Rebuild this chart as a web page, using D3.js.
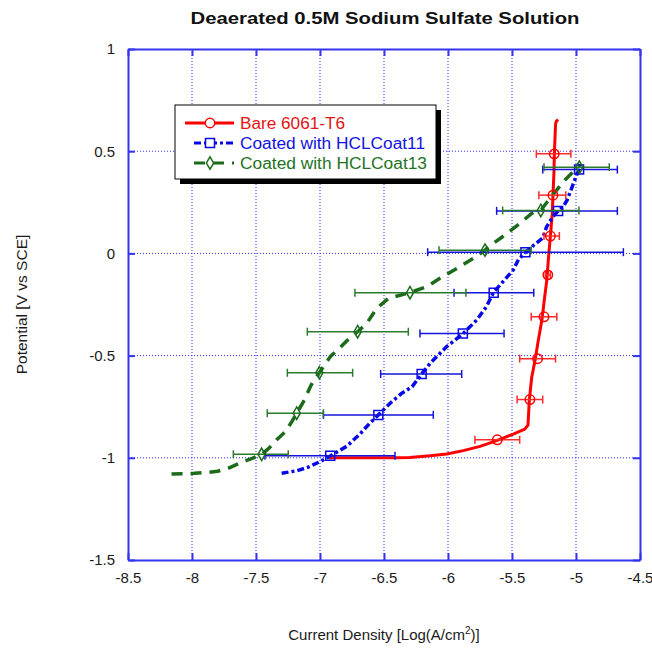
<!DOCTYPE html>
<html>
<head>
<meta charset="utf-8">
<script src="https://cdn.jsdelivr.net/npm/d3@7"></script>
<style>
  html, body { margin: 0; padding: 0; background: #ffffff; }
  svg { display: block; }
  text { font-family: "Liberation Sans", Arial, sans-serif; }
</style>
</head>
<body>
<svg id="chart" width="652" height="649"></svg>
<script>
// Axis ticks
const xTicks = [-8.5, -8, -7.5, -7, -6.5, -6, -5.5, -5, -4.5];
const xTickLabels = ["-8.5", "-8", "-7.5", "-7", "-6.5", "-6", "-5.5", "-5", "-4.5"];
const yTicks = [1, 0.5, 0, -0.5, -1, -1.5];
const yTickLabels = ["1", "0.5", "0", "-0.5", "-1", "-1.5"];

// Series names
const seriesNames = ["Bare 6061-T6", "Coated with HCLCoat11", "Coated with HCLCoat13"];

// Bare 6061-T6: polarization curve (log i, E)
const bareLogI = [-6.93, -6.41, -6.30, -6.14, -6.01, -5.88, -5.75, -5.62, -5.49, -5.40, -5.375, -5.365,
  -5.346, -5.32, -5.295, -5.265, -5.248, -5.228, -5.216, -5.20, -5.185, -5.18, -5.172, -5.169,
  -5.165, -5.16, -5.155, -5.14];
const bareE = [-1.0, -1.0, -0.998, -0.99, -0.981, -0.965, -0.944, -0.916, -0.884, -0.86, -0.84, -0.72,
  -0.606, -0.524, -0.427, -0.32, -0.23, -0.13, -0.03, 0.085, 0.2, 0.285, 0.40, 0.487,
  0.55, 0.63, 0.645, 0.655];
// Bare 6061-T6: averaged points with error ranges
const bareMeanLogI = [-5.17, -5.18, -5.20, -5.22, -5.25, -5.30, -5.36, -5.615];
const bareMeanE = [0.487, 0.285, 0.085, -0.105, -0.31, -0.515, -0.715, -0.912];
const bareErrLo = [-5.31, -5.29, -5.25, -5.24, -5.35, -5.44, -5.46, -5.79];
const bareErrHi = [-5.04, -5.08, -5.13, -5.20, -5.15, -5.16, -5.26, -5.44];

// Coated with HCLCoat11
const coat11LogI = [-7.30, -7.18, -7.10, -7.0, -6.92, -6.79, -6.69, -6.61, -6.544, -6.44, -6.36, -6.28,
  -6.206, -6.14, -6.01, -5.88, -5.776, -5.70, -5.646, -5.57, -5.49, -5.45, -5.395, -5.33,
  -5.26, -5.23, -5.18, -5.14, -5.10, -5.07, -5.03, -5.005, -4.978, -4.965];
const coat11E = [-1.076, -1.063, -1.048, -1.019, -0.991, -0.943, -0.885, -0.83, -0.79, -0.726, -0.684, -0.652,
  -0.59, -0.538, -0.456, -0.391, -0.326, -0.261, -0.192, -0.138, -0.081, -0.03, 0.005, 0.04,
  0.075, 0.13, 0.18, 0.207, 0.229, 0.26, 0.326, 0.367, 0.408, 0.435];
const coat11MeanLogI = [-6.92, -6.544, -6.206, -5.884, -5.643, -5.395, -5.14, -4.976];
const coat11MeanE = [-0.99, -0.79, -0.59, -0.392, -0.192, 0.006, 0.208, 0.41];
const coat11ErrLo = [-7.43, -6.973, -6.526, -6.219, -5.953, -6.159, -5.62, -5.26];
const coat11ErrHi = [-6.414, -6.115, -5.893, -5.562, -5.33, -4.63, -4.677, -4.677];

// Coated with HCLCoat13
const coat13LogI = [-8.16, -8.05, -7.98, -7.87, -7.80, -7.72, -7.63, -7.53, -7.456, -7.40, -7.34, -7.27,
  -7.22, -7.182, -7.13, -7.07, -7.005, -6.92, -6.84, -6.77, -6.706, -6.635, -6.557, -6.466,
  -6.30, -6.166, -6.063, -5.93, -5.80, -5.711, -5.672, -5.555, -5.438, -5.346, -5.27, -5.203,
  -5.151, -5.086, -5.034, -4.982, -4.969];
const coat13E = [-1.079, -1.078, -1.076, -1.071, -1.066, -1.052, -1.027, -1.003, -0.983, -0.954, -0.913, -0.872,
  -0.823, -0.782, -0.726, -0.645, -0.584, -0.505, -0.459, -0.415, -0.383, -0.342, -0.269, -0.22,
  -0.192, -0.163, -0.122, -0.073, -0.024, 0.016, 0.037, 0.09, 0.147, 0.196, 0.215, 0.27,
  0.31, 0.359, 0.392, 0.424, 0.437];
const coat13MeanLogI = [-7.456, -7.182, -7.005, -6.706, -6.297, -5.711, -5.275, -4.974];
const coat13MeanE = [-0.983, -0.782, -0.584, -0.383, -0.192, 0.016, 0.21, 0.422];
const coat13ErrLo = [-7.677, -7.412, -7.255, -7.099, -6.727, -6.07, -5.573, -5.25];
const coat13ErrHi = [-7.248, -6.974, -6.745, -6.31, -5.86, -5.35, -4.977, -4.74];

const svg = d3.select("#chart");
const W = 652, H = 649;
const plot = { left: 128, right: 640, top: 49, bottom: 560 };

svg.append("rect").attr("width", W).attr("height", H).attr("fill", "#ffffff");

const x = d3.scaleLinear().domain([-8.5, -4.5]).range([plot.left, plot.right]);
const y = d3.scaleLinear().domain([-1.5, 1]).range([plot.bottom, plot.top]);

const axisColor = "#3434ee";
const gridColor = "#2a2aff";

// Dotted grid
const grid = svg.append("g");
grid.selectAll("line.vx").data(xTicks.slice(1, -1)).join("line")
  .attr("x1", d => x(d)).attr("x2", d => x(d))
  .attr("y1", plot.top).attr("y2", plot.bottom)
  .attr("stroke", gridColor).attr("stroke-width", 1).attr("stroke-dasharray", "1,2");
grid.selectAll("line.hy").data(yTicks.slice(1, -1)).join("line")
  .attr("y1", d => y(d)).attr("y2", d => y(d))
  .attr("x1", plot.left).attr("x2", plot.right)
  .attr("stroke", gridColor).attr("stroke-width", 1).attr("stroke-dasharray", "1,2");

// Series definitions
const series = [
  { name: seriesNames[0], color: "#ff0000", text: "#e31414", bar: "#ff2a2a", dash: null, width: 3,
    cx: bareLogI, cy: bareE, mx: bareMeanLogI, my: bareMeanE, lo: bareErrLo, hi: bareErrHi,
    symbol: d3.symbolCircle, size: 70, textLen: 105 },
  { name: seriesNames[1], color: "#0808e6", text: "#1212e0", bar: "#1414dc", dash: "7,3,3,3", width: 3.5,
    cx: coat11LogI, cy: coat11E, mx: coat11MeanLogI, my: coat11MeanE, lo: coat11ErrLo, hi: coat11ErrHi,
    symbol: d3.symbolSquare, size: 81, textLen: 185 },
  { name: seriesNames[2], color: "#1b6b1b", text: "#237323", bar: "#2c7a2c", dash: "11,8", width: 3.5,
    cx: coat13LogI, cy: coat13E, mx: coat13MeanLogI, my: coat13MeanE, lo: coat13ErrLo, hi: coat13ErrHi,
    symbol: d3.symbolDiamond, size: 45, textLen: 187 }
];

const line = d3.line().x(d => x(d[0])).y(d => y(d[1]));

// Curves
series.forEach(s => {
  svg.append("path")
    .datum(s.cx.map((v, i) => [v, s.cy[i]]))
    .attr("d", line)
    .attr("fill", "none")
    .attr("stroke", s.color)
    .attr("stroke-width", s.width)
    .attr("stroke-linejoin", "round")
    .attr("stroke-dasharray", s.dash);
});

// Error bars and markers
const capH = 4;
series.forEach(s => {
  const g = svg.append("g");
  s.mx.forEach((v, i) => {
    const yy = y(s.my[i]);
    const x0 = x(s.lo[i]), x1 = x(s.hi[i]);
    g.append("line").attr("x1", x0).attr("x2", x1).attr("y1", yy).attr("y2", yy)
      .attr("stroke", s.bar).attr("stroke-width", 1.5);
    [x0, x1].forEach(xc => {
      g.append("line").attr("x1", xc).attr("x2", xc).attr("y1", yy - capH).attr("y2", yy + capH)
        .attr("stroke", s.bar).attr("stroke-width", 1.5);
    });
    g.append("path")
      .attr("d", d3.symbol().type(s.symbol).size(s.size)())
      .attr("transform", `translate(${x(v)},${yy})`)
      .attr("fill", "none")
      .attr("stroke", s.color)
      .attr("stroke-width", 1.5);
  });
});

// Plot frame with inward ticks on all sides
const fmtX = d => xTickLabels[xTicks.indexOf(d)];
const fmtY = d => yTickLabels[yTicks.indexOf(d)];

const gBottom = svg.append("g").attr("transform", `translate(0,${plot.bottom})`)
  .call(d3.axisBottom(x).tickValues(xTicks).tickFormat(fmtX).tickSizeInner(-7).tickSizeOuter(0).tickPadding(12));
const gLeft = svg.append("g").attr("transform", `translate(${plot.left},0)`)
  .call(d3.axisLeft(y).tickValues(yTicks).tickFormat(fmtY).tickSizeInner(-7).tickSizeOuter(0).tickPadding(13));
const gTop = svg.append("g").attr("transform", `translate(0,${plot.top})`)
  .call(d3.axisTop(x).tickValues(xTicks).tickFormat("").tickSizeInner(-7).tickSizeOuter(0));
const gRight = svg.append("g").attr("transform", `translate(${plot.right},0)`)
  .call(d3.axisRight(y).tickValues(yTicks).tickFormat("").tickSizeInner(-7).tickSizeOuter(0));

[gBottom, gLeft, gTop, gRight].forEach(g => {
  g.select(".domain").attr("stroke", axisColor).attr("stroke-width", 2);
  g.selectAll(".tick line").attr("stroke", axisColor).attr("stroke-width", 2);
  g.selectAll(".tick text").attr("fill", "#1a1a1a").attr("font-size", 15)
    .attr("font-family", "'Liberation Sans', Arial, sans-serif");
});

// Title and axis titles
svg.append("text")
  .attr("x", 385).attr("y", 24)
  .attr("text-anchor", "middle")
  .attr("font-weight", "bold")
  .attr("font-size", 17)
  .attr("textLength", 389)
  .attr("lengthAdjust", "spacingAndGlyphs")
  .attr("fill", "#111")
  .text("Deaerated 0.5M Sodium Sulfate Solution");

const xt = svg.append("text")
  .attr("x", 384).attr("y", 640)
  .attr("text-anchor", "middle")
  .attr("font-size", 15)
  .attr("fill", "#1a1a1a");
xt.append("tspan").text("Current Density [Log(A/cm");
xt.append("tspan").attr("dy", -6).attr("font-size", 10).text("2");
xt.append("tspan").attr("dy", 6).text(")]");

svg.append("text")
  .attr("transform", `translate(27,${(plot.top + plot.bottom) / 2}) rotate(-90)`)
  .attr("text-anchor", "middle")
  .attr("font-size", 15.5)
  .attr("fill", "#1a1a1a")
  .text("Potential [V vs SCE]");

// Legend with drop shadow
const lg = { x: 175, y: 105, w: 261, h: 74 };
svg.append("rect").attr("x", lg.x + 5).attr("y", lg.y + 5).attr("width", lg.w).attr("height", lg.h)
  .attr("fill", "#000");
svg.append("rect").attr("x", lg.x).attr("y", lg.y).attr("width", lg.w).attr("height", lg.h)
  .attr("fill", "#fff").attr("stroke", "#000").attr("stroke-width", 1);

series.forEach((s, i) => {
  const yy = lg.y + 18 + i * 20;
  svg.append("line")
    .attr("x1", i === 0 ? 185 : 194).attr("x2", 234)
    .attr("y1", yy).attr("y2", yy)
    .attr("stroke", s.color).attr("stroke-width", 3)
    .attr("stroke-dasharray", s.dash);
  svg.append("path")
    .attr("d", d3.symbol().type(s.symbol).size(s.size)())
    .attr("transform", `translate(210,${yy})`)
    .attr("fill", "#fff").attr("stroke", s.color).attr("stroke-width", 1.5);
  svg.append("text")
    .attr("x", 240).attr("y", yy + 5.5)
    .attr("font-size", 16)
    .attr("textLength", s.textLen)
    .attr("lengthAdjust", "spacingAndGlyphs")
    .attr("fill", s.text)
    .text(s.name);
});
</script>
</body>
</html>
